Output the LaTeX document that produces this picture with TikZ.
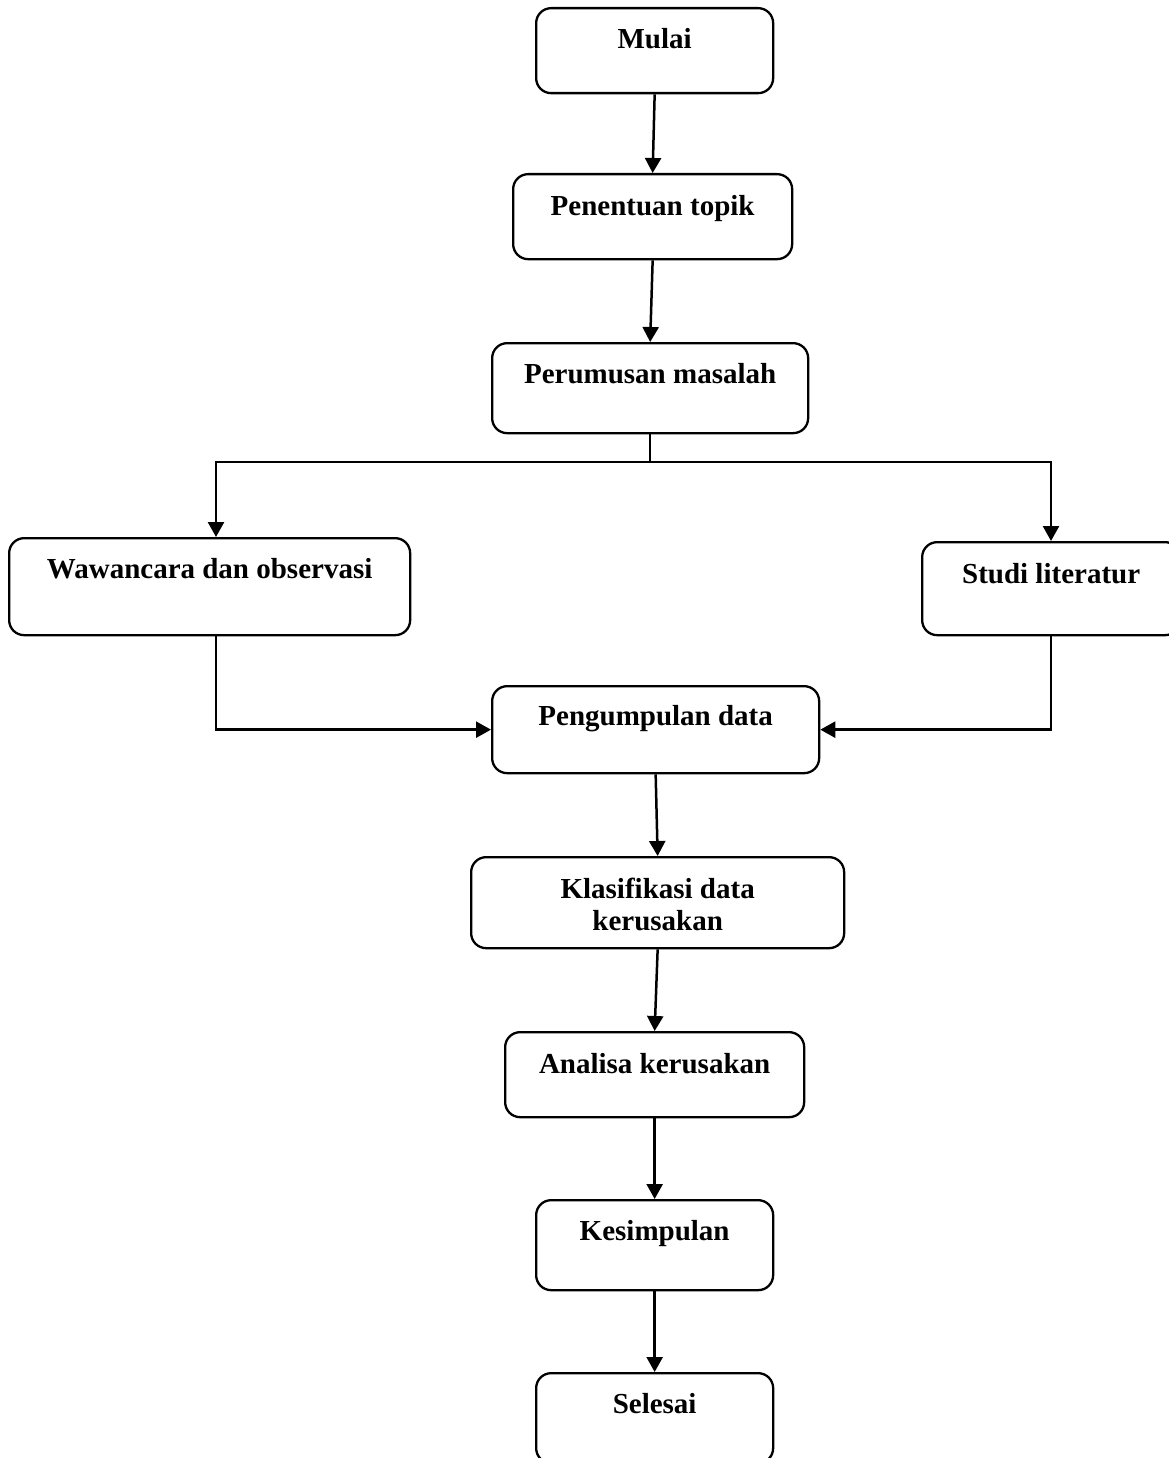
\documentclass[tikz,border=0pt]{standalone}
\usepackage{fontspec}
\setmainfont{Liberation Serif}
\usetikzlibrary{arrows.meta,positioning}
\tikzset{
	kotak/.style={draw,line width=2.3pt,rounded corners=15pt,inner sep=0pt,anchor=north west},
	teks/.style={anchor=base,inner sep=0pt,font=\bfseries\fontsize{29}{32}\selectfont},
	garis/.style={line width=2.5pt},
	panah/.style={garis,-{Triangle[length=15pt,width=16pt]}}
}

\begin{document}
\begin{tikzpicture}[x=1pt,y=-1pt]
	\useasboundingbox (0,0) rectangle (1169,1458);
	
	% kotak proses
	\node[kotak,minimum width=237pt,minimum height=85pt] (mulai)   at (535,7)    {};
	\node[kotak,minimum width=279pt,minimum height=85pt] (topik)   at (512,173)  {};
	\node[kotak,minimum width=316pt,minimum height=90pt] (rumusan) at (491,342)  {};
	\node[kotak,minimum width=401pt,minimum height=97pt] (wawan)   at (8,537)    {};
	\node[kotak,minimum width=258pt,minimum height=93pt] (studi)   at (921,541)  {};
	\node[kotak,minimum width=327pt,minimum height=87pt] (kumpul)  at (491,685)  {};
	\node[kotak,minimum width=373pt,minimum height=91pt] (klas)    at (470,856)  {};
	\node[kotak,minimum width=299pt,minimum height=85pt] (analisa) at (504,1031) {};
	\node[kotak,minimum width=237pt,minimum height=90pt] (simpul)  at (535,1199) {};
	\node[kotak,minimum width=237pt,minimum height=90pt] (selesai) at (535,1372) {};
	
	% tulisan di bagian atas kotak
	\node[teks] (tmulai)   at ([yshift=-42pt]mulai.north)   {Mulai};
	\node[teks] (ttopik)   at ([yshift=-42pt]topik.north)   {Penentuan topik};
	\node[teks] (trumusan) at ([yshift=-41pt]rumusan.north) {Perumusan masalah};
	\node[teks] (twawan)   at ([yshift=-41pt]wawan.north)   {Wawancara dan observasi};
	\node[teks] (tstudi)   at ([yshift=-42pt]studi.north)   {Studi literatur};
	\node[teks] (tkumpul)  at ([yshift=-40pt]kumpul.north)  {Pengumpulan data};
	\node[teks,anchor=center,align=center] (tklas) at ([yshift=-2pt]klas.center) {Klasifikasi data\\kerusakan};
	\node[teks] (tanalisa) at ([yshift=-42pt]analisa.north) {Analisa kerusakan};
	\node[teks] (tsimpul)  at ([yshift=-41pt]simpul.north)  {Kesimpulan};
	\node[teks] (tselesai) at ([yshift=-41pt]selesai.north) {Selesai};
	
	% percabangan
	\coordinate (kiri)  at (216,462);
	\coordinate (kanan) at (1051,462);
	
	\draw[panah] (mulai.south) -- (topik.north);
	\draw[panah] (topik.south) -- (rumusan.north);
	\draw[panah] (rumusan.south) |- (kiri) -- (kiri |- wawan.north);
	\draw[panah] (rumusan.south) |- (kanan) -- (kanan |- studi.north);
	\draw[panah] (kiri |- wawan.south) |- (kumpul.west);
	\draw[panah] (kanan |- studi.south) |- (kumpul.east);
	\draw[panah] (kumpul.south) -- (klas.north);
	\draw[panah] (klas.south) -- (analisa.north);
	\draw[panah] (analisa.south) -- (simpul.north);
	\draw[panah] (simpul.south) -- (selesai.north);
\end{tikzpicture}
\end{document}
